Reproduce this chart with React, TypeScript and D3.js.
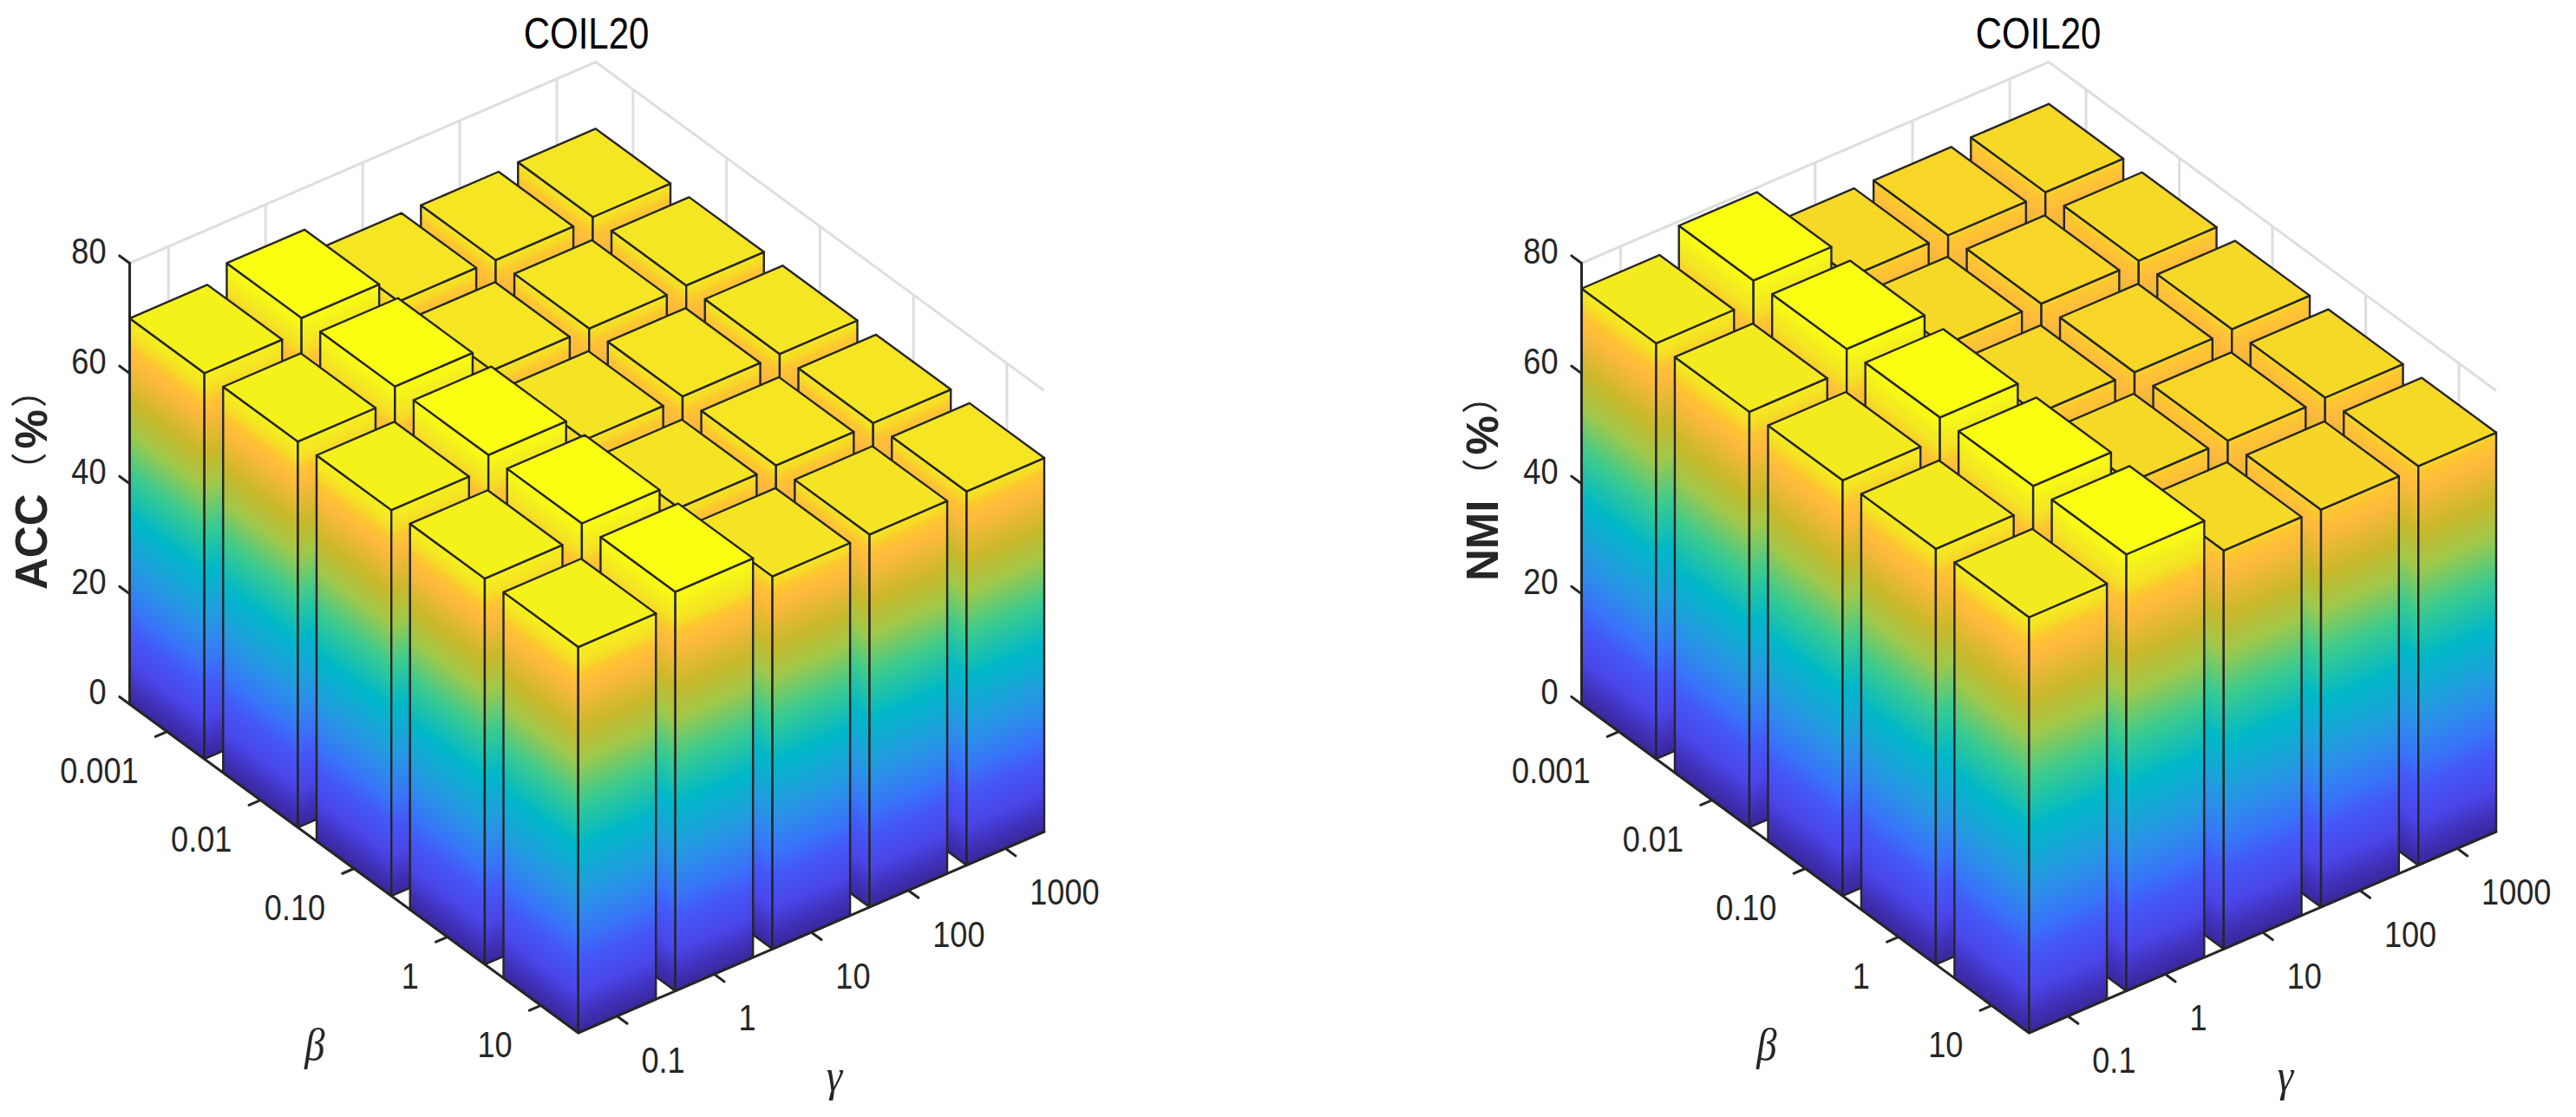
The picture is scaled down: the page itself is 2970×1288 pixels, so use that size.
import React from "react";
import * as d3 from "d3";

const title = "COIL20";
const betaLabels = ["0.001", "0.01", "0.10", "1", "10"];
const gammaLabels = ["0.1", "1", "10", "100", "1000"];
const zTicks = [0, 20, 40, 60, 80];

// rows: beta, columns: gamma
const accValues = [
  [70.0, 72.4, 67.8, 67.7, 67.9],
  [70.0, 72.4, 67.7, 67.7, 67.9],
  [70.0, 72.4, 67.6, 67.8, 67.9],
  [70.0, 72.4, 67.6, 67.7, 67.8],
  [70.0, 72.4, 67.6, 67.6, 67.8],
];
const nmiValues = [
  [75.4, 79.2, 72.3, 72.2, 72.4],
  [75.4, 79.2, 72.3, 72.2, 72.4],
  [75.4, 79.2, 72.3, 72.2, 72.4],
  [75.4, 79.2, 72.3, 72.2, 72.4],
  [75.4, 79.2, 72.3, 72.1, 72.4],
];

const cmapT = [0, 0.04, 0.1, 0.18, 0.24, 0.3, 0.37, 0.47, 0.58, 0.68, 0.76, 0.86, 0.9, 0.913, 0.933, 0.965, 1];
const cmapC = ["#38289a", "#4030b8", "#4a45e8", "#4458f8", "#3874f8", "#2e8aec", "#1ea0dc", "#00b8c8", "#3ccb8e", "#a0c84a", "#c8b82a", "#ffb93d", "#fdc830", "#f6d826", "#f5e424", "#f4f01c", "#faff12"];
const cmap = d3.scaleLinear<string>().domain(cmapT).range(cmapC).interpolate(d3.interpolateRgb);

const INK = "#262626";
const GRID = "#dedede";
const FONT = "'Liberation Sans', Arimo, Helvetica, Arial, sans-serif";
const CJK = "'Noto Sans CJK SC', sans-serif";

type Props = {
  id: string;
  values: number[][];
  zLabel: string;
  leftX: number;
  frontX: number;
  rightX: number;
  titleX: number;
  zLabelX: number;
  zLabelY: number;
  betaSym: [number, number];
  gammaSym: [number, number];
};

const leftY = 812;
const frontY = 1191;
const rightY = 959;
const zSpan = 508.5;

function Panel(p: Props) {
  const bx = d3.scaleLinear().domain([-0.4, 4.4]).range([p.leftX, p.frontX]);
  const by = d3.scaleLinear().domain([-0.4, 4.4]).range([leftY, frontY]);
  const gx = d3.scaleLinear().domain([-0.4, 4.4]).range([0, p.rightX - p.frontX]);
  const gy = d3.scaleLinear().domain([-0.4, 4.4]).range([0, rightY - frontY]);
  const zp = d3.scaleLinear().domain([0, 80]).range([0, -zSpan]);
  const P = (i: number, j: number, z: number): [number, number] => [bx(i) + gx(j), by(i) + gy(j) + zp(z)];
  const line = d3.line();
  const poly = (pts: [number, number][]) => line(pts) + "Z";

  const zmax = d3.max(p.values.flat()) as number;
  const zmaxPx = -zp(zmax);

  const gradientEnd = (A: [number, number], d: [number, number]): [number, number] => {
    const len = Math.hypot(d[0], d[1]);
    let nx = -d[1] / len;
    let ny = d[0] / len;
    if (ny > 0) {
      nx = -nx;
      ny = -ny;
    }
    const L = zmaxPx * Math.abs(ny);
    return [A[0] + nx * L, A[1] + ny * L];
  };

  const betaVec: [number, number] = [P(1, 0, 0)[0] - P(0, 0, 0)[0], P(1, 0, 0)[1] - P(0, 0, 0)[1]];
  const gammaVec: [number, number] = [P(0, 1, 0)[0] - P(0, 0, 0)[0], P(0, 1, 0)[1] - P(0, 0, 0)[1]];

  const cells: { i: number; j: number; v: number }[] = [];
  for (let i = 0; i < betaLabels.length; i++) {
    for (let j = gammaLabels.length - 1; j >= 0; j--) {
      cells.push({ i, j, v: p.values[i][j] });
    }
  }
  const stops = cmapT.map((t, k) => <stop key={k} offset={t} stopColor={cmapC[k]} />);
  const w = 0.4;
  const tickLen = 14.5;
  const unit = (v: [number, number]) => {
    const l = Math.hypot(v[0], v[1]);
    return [v[0] / l, v[1] / l];
  };
  const bU = unit(betaVec);
  const gU = unit(gammaVec);

  const digit = { fontFamily: FONT, fontSize: 42, fill: INK };
  const sx = 0.86;

  return (
    <g>
      <defs>
        {cells.map(({ i, j }) => {
          const A = P(i + w, j - w, 0);
          const eL = gradientEnd(A, betaVec);
          const eR = gradientEnd(A, gammaVec);
          return (
            <React.Fragment key={`${i}-${j}`}>
              <linearGradient id={`${p.id}L${i}${j}`} gradientUnits="userSpaceOnUse" x1={A[0]} y1={A[1]} x2={eL[0]} y2={eL[1]}>
                {stops}
              </linearGradient>
              <linearGradient id={`${p.id}R${i}${j}`} gradientUnits="userSpaceOnUse" x1={A[0]} y1={A[1]} x2={eR[0]} y2={eR[1]}>
                {stops}
              </linearGradient>
            </React.Fragment>
          );
        })}
      </defs>

      {/* walls */}
      <g stroke={GRID} strokeWidth={3} fill="none">
        {zTicks.map((z) => (
          <path key={z} d={line([P(-0.4, -0.4, z), P(-0.4, 4.4, z), P(4.4, 4.4, z)]) as string} />
        ))}
        {gammaLabels.map((_, j) => (
          <path key={j} d={line([P(-0.4, j, 0), P(-0.4, j, 80)]) as string} />
        ))}
        {betaLabels.map((_, i) => (
          <path key={i} d={line([P(i, 4.4, 0), P(i, 4.4, 80)]) as string} />
        ))}
      </g>

      {/* bars */}
      <g stroke={INK} strokeWidth={2.4} strokeLinejoin="round">
        {cells.map(({ i, j, v }) => {
          const f0 = P(i + w, j - w, 0);
          const f1 = P(i + w, j - w, v);
          const l0 = P(i - w, j - w, 0);
          const l1 = P(i - w, j - w, v);
          const r0 = P(i + w, j + w, 0);
          const r1 = P(i + w, j + w, v);
          const b1 = P(i - w, j + w, v);
          return (
            <g key={`${i}-${j}`}>
              <path d={poly([l0, f0, f1, l1])} fill={`url(#${p.id}L${i}${j})`} />
              <path d={poly([f0, r0, r1, f1])} fill={`url(#${p.id}R${i}${j})`} />
              <path d={poly([f1, r1, b1, l1])} fill={cmap(v / zmax)} />
            </g>
          );
        })}
      </g>

      {/* axes */}
      <g stroke={INK} strokeWidth={3} fill="none" strokeLinecap="round">
        <path d={line([P(-0.4, -0.4, 80), P(-0.4, -0.4, 0), P(4.4, -0.4, 0), P(4.4, 4.4, 0)]) as string} strokeLinejoin="round" />
        {zTicks.map((z) => {
          const a = P(-0.4, -0.4, z);
          return <path key={z} d={line([a, [a[0] - bU[0] * tickLen, a[1] - bU[1] * tickLen]]) as string} />;
        })}
        {betaLabels.map((_, i) => {
          const a = P(i, -0.4, 0);
          return <path key={i} d={line([a, [a[0] - gU[0] * tickLen, a[1] - gU[1] * tickLen]]) as string} />;
        })}
        {gammaLabels.map((_, j) => {
          const a = P(4.4, j, 0);
          return <path key={j} d={line([a, [a[0] + bU[0] * tickLen, a[1] + bU[1] * tickLen]]) as string} />;
        })}
      </g>

      {/* tick labels */}
      {zTicks.map((z) => {
        const a = P(-0.4, -0.4, z);
        return (
          <text key={z} {...digit} textAnchor="end" transform={`translate(${a[0] - 27},${a[1]}) scale(${sx},1)`}>
            {z}
          </text>
        );
      })}
      {betaLabels.map((t, i) => {
        const a = P(i, -0.4, 0);
        return (
          <text key={t} {...digit} textAnchor="end" transform={`translate(${a[0] - 33},${a[1] + 59.5}) scale(${sx},1)`}>
            {t}
          </text>
        );
      })}
      {gammaLabels.map((t, j) => {
        const a = P(4.4, j, 0);
        return (
          <text key={t} {...digit} textAnchor="start" transform={`translate(${a[0] + 28},${a[1] + 65}) scale(${sx},1)`}>
            {t}
          </text>
        );
      })}

      <text fontFamily={FONT} fontSize={50} fill="#000" textAnchor="middle" transform={`translate(${p.titleX},56) scale(0.84,1)`}>
        {title}
      </text>
      <text fontFamily={`'Liberation Serif', serif`} fontStyle="italic" fontSize={52} fill={INK} textAnchor="middle" transform={`translate(${p.betaSym[0]},${p.betaSym[1]}) scale(0.9,1)`}>
        β
      </text>
      <text fontFamily={`'Liberation Serif', serif`} fontStyle="italic" fontSize={52} fill={INK} textAnchor="middle" transform={`translate(${p.gammaSym[0]},${p.gammaSym[1]}) scale(0.9,1)`}>
        γ
      </text>
      <text fontFamily={FONT} fontWeight="bold" fontSize={51} fill={INK} textAnchor="start" transform={`translate(${p.zLabelX},${p.zLabelY}) rotate(-90)`}>
        {p.zLabel}
        <tspan fontFamily={CJK} fontWeight={400} fontSize={42} dx={6} dy={-5}>（</tspan>
        <tspan dx={4} dy={5}>%</tspan>
        <tspan fontFamily={CJK} fontWeight={400} fontSize={42} dx={2} dy={-5}>）</tspan>
      </text>
    </g>
  );
}

export default function App() {
  return (
    <svg width={2970} height={1288} viewBox="0 0 2970 1288" style={{ position: "absolute", left: 0, top: 0, display: "block", background: "#fff" }}>
      <Panel id="a" values={accValues} zLabel="ACC" leftX={149.5} frontX={666.7} rightX={1204} titleX={676} zLabelX={54} zLabelY={680} betaSym={[363, 1222]} gammaSym={[962, 1258]} />
      <Panel id="b" values={nmiValues} zLabel="NMI" leftX={1823.5} frontX={2339.4} rightX={2878} titleX={2350} zLabelX={1727} zLabelY={670} betaSym={[2037, 1222]} gammaSym={[2635, 1258]} />
    </svg>
  );
}
